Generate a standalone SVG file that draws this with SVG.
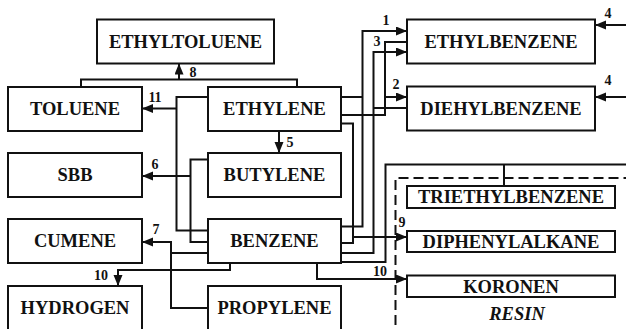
<svg xmlns="http://www.w3.org/2000/svg" width="626" height="329" viewBox="0 0 626 329">
<style>
.box{fill:#fff;stroke:#111;stroke-width:2}
.t{font-family:"Liberation Serif","Times New Roman",serif;font-weight:bold;font-size:18.5px;fill:#111;text-anchor:middle}
.n{font-family:"Liberation Serif","Times New Roman",serif;font-weight:bold;font-size:14px;fill:#111;text-anchor:middle}
.c{fill:none;stroke:#111;stroke-width:2}
.a{marker-end:url(#ah)}
.d{fill:none;stroke:#111;stroke-width:2;stroke-dasharray:10 5}
</style>
<defs>
<marker id="ah" markerUnits="userSpaceOnUse" markerWidth="12" markerHeight="10" refX="11" refY="4.5" orient="auto">
<path d="M0,0 L11,4.5 L0,9 z" fill="#111"/>
</marker>
</defs>
<rect width="626" height="329" fill="#fff"/>
<g id="connectors">
<path class="d" d="M395.5,340 V178 H626"/>
<path class="c" d="M81,87 V79.5 H297 V87"/>
<path class="c a" d="M179,79.5 V63.5"/>
<path class="c" d="M208,97 H176.5 V230.5 H208"/>
<path class="c a" d="M176.5,108.5 H142"/>
<path class="c" d="M208,159.5 H190.5 V242 H208"/>
<path class="c a" d="M190.5,176 H142"/>
<path class="c a" d="M208,308 H171 V242 H142"/>
<path class="c" d="M171,253 H208"/>
<path class="c a" d="M279,131 V153"/>
<path class="c a" d="M230,263 V270 H118 V286"/>
<path class="c a" d="M341,226.5 H362.5 V31 H407"/>
<path class="c" d="M341,97 H362.5"/>
<path class="c" d="M407,42 H385 V115 H341"/>
<path class="c a" d="M385,97 H407"/>
<path class="c a" d="M341,253 H373.5 V52 H407"/>
<path class="c" d="M407,108 H373.5"/>
<path class="c" d="M341,123.5 H353 V243 H341"/>
<path class="c a" d="M353,237 H407"/>
<path class="c" d="M341,262 H385.5 V164.5 H626"/>
<path class="c" d="M504,164.5 V186"/>
<path class="c a" d="M317,263 V279 H407"/>
<path class="c a" d="M626,25 H595"/>
<path class="c a" d="M626,97 H595"/>
<text class="n" x="193" y="77">8</text>
<text class="n" x="155" y="102">11</text>
<text class="n" x="155" y="169">6</text>
<text class="n" x="156" y="234">7</text>
<text class="n" x="290" y="147">5</text>
<text class="n" x="101" y="280">10</text>
<text class="n" x="386" y="25">1</text>
<text class="n" x="377" y="46">3</text>
<text class="n" x="396" y="89">2</text>
<text class="n" x="608" y="18">4</text>
<text class="n" x="608" y="85">4</text>
<text class="n" x="402" y="227">9</text>
<text class="n" x="380" y="276">10</text>
</g>
<g id="ethyltoluene"><rect class="box" x="97" y="19.5" width="177" height="44"/><text class="t" x="185.5" y="47.8">ETHYLTOLUENE</text></g>
<g id="toluene"><rect class="box" x="8" y="87" width="134" height="44"/><text class="t" x="75" y="115.3">TOLUENE</text></g>
<g id="ethylene"><rect class="box" x="208" y="87" width="133" height="44"/><text class="t" x="274.5" y="115.3">ETHYLENE</text></g>
<g id="sbb"><rect class="box" x="8" y="153" width="134" height="44"/><text class="t" x="75" y="181.3">SBB</text></g>
<g id="butylene"><rect class="box" x="208" y="153" width="133" height="44"/><text class="t" x="274.5" y="181.3">BUTYLENE</text></g>
<g id="cumene"><rect class="box" x="8" y="219" width="134" height="44"/><text class="t" x="75" y="247.3">CUMENE</text></g>
<g id="benzene"><rect class="box" x="208" y="219" width="133" height="44"/><text class="t" x="274.5" y="247.3">BENZENE</text></g>
<g id="hydrogen"><rect class="box" x="8" y="286" width="134" height="60"/><text class="t" x="75" y="314.3">HYDROGEN</text></g>
<g id="propylene"><rect class="box" x="208" y="286" width="133" height="60"/><text class="t" x="274.5" y="314.3">PROPYLENE</text></g>
<g id="ethylbenzene"><rect class="box" x="407" y="19.5" width="188" height="44"/><text class="t" x="501" y="47.8">ETHYLBENZENE</text></g>
<g id="diehylbenzene"><rect class="box" x="407" y="86.5" width="188" height="44"/><text class="t" x="501" y="114.8">DIEHYLBENZENE</text></g>
<g id="triethylbenzene"><rect class="box" x="407" y="186" width="208" height="22"/><text class="t" x="511" y="203.3">TRIETHYLBENZENE</text></g>
<g id="diphenylalkane"><rect class="box" x="407" y="231" width="208" height="21"/><text class="t" x="511" y="247.8">DIPHENYLALKANE</text></g>
<g id="koronen"><rect class="box" x="407" y="275.5" width="208" height="21.5"/><text class="t" x="511" y="292.5">KORONEN</text></g>
<g id="resin"><text class="t" x="517" y="319.5" font-style="italic">RESIN</text></g>
</svg>
